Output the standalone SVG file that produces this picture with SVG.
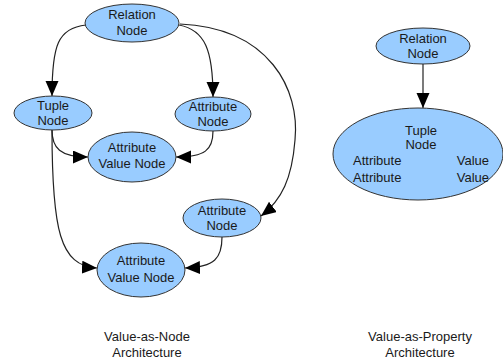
<svg xmlns="http://www.w3.org/2000/svg" width="503" height="362" viewBox="0 0 503 362">
<style>
.n ellipse{fill:#99ccff;stroke:#333;stroke-width:1}
text{font-family:"Liberation Sans",Arial,sans-serif;font-size:13px;fill:#1a1a1a}
.c{text-anchor:middle}
.e path{fill:none;stroke:#222;stroke-width:1.2}
</style>
<defs>
<marker id="ah" markerUnits="userSpaceOnUse" markerWidth="16" markerHeight="14" refX="15" refY="6.5" orient="auto" viewBox="0 0 16 14">
<path d="M0,0 L15,6.5 L0,13 Z" fill="#000"/>
</marker>
</defs>
<rect width="503" height="362" fill="#fff"/>
<g class="e" id="connectors">
<path d="M86,25 C58,28 52,45 52,96" marker-end="url(#ah)"/>
<path d="M179,25 C205,30 213,50 213,97" marker-end="url(#ah)"/>
<path d="M180,24 C270,28 300,90 295,140 C292,178 282,200 261,216" marker-end="url(#ah)"/>
<path d="M52,130 C52,148 60,157 88,157" marker-end="url(#ah)"/>
<path d="M213,131 C213,150 205,157 176,157" marker-end="url(#ah)"/>
<path d="M52,130 C52,230 60,266 97,268" marker-end="url(#ah)"/>
<path d="M222,237 C222,258 215,267 185,268" marker-end="url(#ah)"/>
<path d="M423,64 L423,108" marker-end="url(#ah)"/>
</g>
<g class="n" id="relation1">
<ellipse cx="132" cy="23" rx="47" ry="19"/>
<text class="c" x="132" y="19">Relation</text>
<text class="c" x="132" y="35">Node</text>
</g>
<g class="n" id="tuple1">
<ellipse cx="53" cy="113" rx="39" ry="17"/>
<text class="c" x="53" y="110">Tuple</text>
<text class="c" x="53" y="125">Node</text>
</g>
<g class="n" id="attr1">
<ellipse cx="213" cy="114" rx="38" ry="17"/>
<text class="c" x="213" y="111">Attribute</text>
<text class="c" x="213" y="126">Node</text>
</g>
<g class="n" id="avn1">
<ellipse cx="132" cy="157" rx="44" ry="25"/>
<text class="c" x="132" y="152">Attribute</text>
<text class="c" x="132" y="168">Value Node</text>
</g>
<g class="n" id="attr2">
<ellipse cx="222" cy="218" rx="39" ry="19"/>
<text class="c" x="222" y="215">Attribute</text>
<text class="c" x="222" y="230">Node</text>
</g>
<g class="n" id="avn2">
<ellipse cx="141" cy="270" rx="44" ry="27"/>
<text class="c" x="141" y="265">Attribute</text>
<text class="c" x="141" y="282">Value Node</text>
</g>
<g class="n" id="relation2">
<ellipse cx="423" cy="46" rx="47" ry="18"/>
<text class="c" x="423" y="43">Relation</text>
<text class="c" x="423" y="58">Node</text>
</g>
<g class="n" id="tuple2">
<ellipse cx="418" cy="154" rx="85" ry="46"/>
<text class="c" x="421" y="135">Tuple</text>
<text class="c" x="421" y="149">Node</text>
<text x="353" y="165">Attribute</text>
<text x="353" y="182">Attribute</text>
<text x="489" y="165" text-anchor="end">Value</text>
<text x="489" y="182" text-anchor="end">Value</text>
</g>
<g id="captions">
<text class="c" x="147" y="341">Value-as-Node</text>
<text class="c" x="147" y="357">Architecture</text>
<text class="c" x="420" y="341">Value-as-Property</text>
<text class="c" x="420" y="357">Architecture</text>
</g>
</svg>
